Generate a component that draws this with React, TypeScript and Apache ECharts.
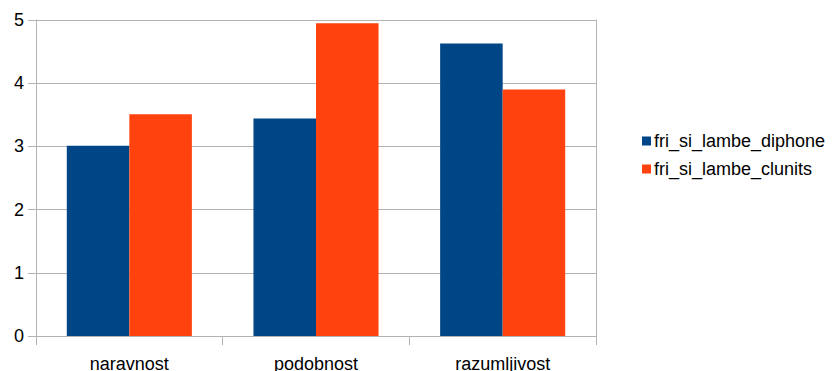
import React, { useEffect, useRef } from "react";
import * as echarts from "echarts";

const categories = ["naravnost", "podobnost", "razumljivost"];
const diphone = [3.01, 3.44, 4.63];
const clunits = [3.51, 4.95, 3.9];
const seriesNames = ["fri_si_lambe_diphone", "fri_si_lambe_clunits"];
const yTicks = { min: 0, max: 5, interval: 1 };

const FONT = "'Liberation Sans', Arial, sans-serif";
const GRID_COLOR = "#b3b3b3";

export default function App() {
  const ref = useRef<HTMLDivElement>(null);

  useEffect(() => {
    if (!ref.current) return;
    const chart = echarts.init(ref.current, undefined, { renderer: "svg" });
    chart.setOption({
      animation: false,
      textStyle: { fontFamily: FONT },
      grid: {
        left: 36,
        top: 20,
        width: 560,
        height: 316,
        show: false,
        containLabel: false,
        outerBoundsMode: "none",
      },
      legend: {
        orient: "vertical",
        left: 637,
        top: 127,
        itemWidth: 9,
        itemHeight: 9,
        itemGap: 10,
        icon: "rect",
        textStyle: { fontSize: 18, color: "#000", fontFamily: FONT, padding: [0, 0, 0, -2] },
        data: seriesNames,
      },
      xAxis: {
        type: "category",
        data: categories,
        axisLine: { show: false },
        axisTick: {
          show: true,
          length: 9,
          lineStyle: { color: GRID_COLOR },
        },
        axisLabel: {
          fontSize: 18,
          color: "#000",
          margin: 19,
          fontFamily: FONT,
        },
      },
      yAxis: [
        {
          type: "value",
          min: yTicks.min,
          max: yTicks.max,
          interval: yTicks.interval,
          axisLine: { show: true, lineStyle: { color: GRID_COLOR } },
          axisTick: { show: true, length: 8, lineStyle: { color: GRID_COLOR } },
          splitLine: { show: true, lineStyle: { color: GRID_COLOR } },
          axisLabel: { fontSize: 18, color: "#000", margin: 12, fontFamily: FONT },
        },
        {
          type: "value",
          position: "right",
          min: yTicks.min,
          max: yTicks.max,
          interval: yTicks.interval,
          axisLine: { show: true, lineStyle: { color: GRID_COLOR } },
          axisTick: { show: false },
          splitLine: { show: false },
          axisLabel: { show: false },
        },
      ],
      series: [
        {
          name: seriesNames[0],
          type: "bar",
          data: diphone,
          barGap: "0%",
          barCategoryGap: "33%",
          itemStyle: { color: "#004586" },
        },
        {
          name: seriesNames[1],
          type: "bar",
          data: clunits,
          barGap: "0%",
          barCategoryGap: "33%",
          itemStyle: { color: "#ff420e" },
        },
      ],
    });
    return () => chart.dispose();
  }, []);

  return <div ref={ref} style={{ width: 832, height: 371, position: "absolute", left: 0, top: 0 }} />;
}
